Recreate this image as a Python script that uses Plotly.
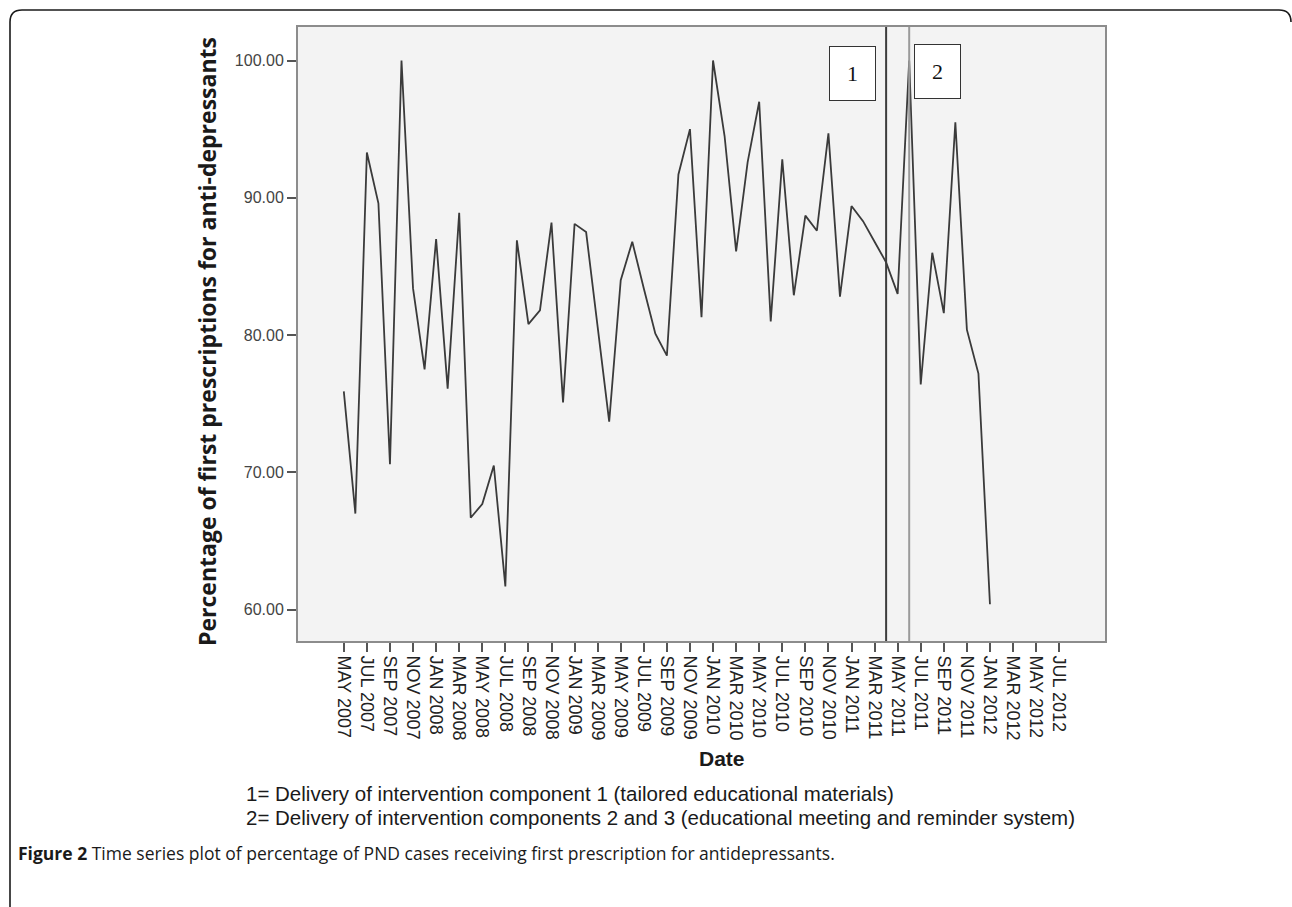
import plotly.graph_objects as go
import pandas as pd

# ---------------- data ----------------
months = [d.strftime("%b %Y").upper()
          for d in pd.date_range("2007-05-01", "2012-07-01", freq="MS")]
pct = [75.9, 67.0, 93.3, 89.6, 70.6, 100.0, 83.4, 77.5, 87.0, 76.1,
       88.9, 66.7, 67.7, 70.5, 61.7, 86.9, 80.8, 81.8, 88.2, 75.1,
       88.1, 87.5, 80.6, 73.7, 84.0, 86.8, 83.4, 80.1, 78.5, 91.7,
       95.0, 81.3, 100.0, 94.5, 86.1, 92.6, 97.0, 81.0, 92.8, 82.9,
       88.7, 87.6, 94.7, 82.8, 89.4, 88.3, 86.8, 85.3, 83.0, 100.0,
       76.4, 86.0, 81.6, 95.5, 80.4, 77.2, 60.4]
tick_labels = months[::2]
y_ticks = [60, 70, 80, 90, 100]
events = ["APR 2011", "JUN 2011"]
event_labels = ["1", "2"]
legend_lines = [
    "1= Delivery of intervention component 1 (tailored educational materials)",
    "2= Delivery of intervention components 2 and 3 (educational meeting and reminder system)",
]
caption_bold = "Figure 2"
caption_text = " Time series plot of percentage of PND cases receiving first prescription for antidepressants."

# ---------------- layout geometry ----------------
W, H = 1292, 907
ML, MR, MT, MB = 298, 187, 27, 266
PW, PH = W - ML - MR, H - MT - MB


def px(x):
    return (x - ML) / PW


def py(y):
    return (H - MB - y) / PH


x_idx = list(range(len(pct)))
fig = go.Figure()
fig.add_trace(go.Scatter(
    x=x_idx, y=pct, mode="lines",
    line=dict(color="#3a3a3a", width=1.8),
    showlegend=False, hoverinfo="skip"))

shapes = []
ev_colors = ["#3c3c3c", "#9a9a9a"]
for ev, c in zip(events, ev_colors):
    xi = months.index(ev)
    shapes.append(dict(type="line", xref="x", yref="paper", x0=xi, x1=xi,
                       y0=0, y1=1, line=dict(color=c, width=2)))

# outer rounded frame (left side + top, with rounded corners)
r = 12
x0, x1, y0, y1 = 10, 1291, 10, 907
path = (f"M {px(x0)},{py(y1)} L {px(x0)},{py(y0 + r)} "
        f"Q {px(x0)},{py(y0)} {px(x0 + r)},{py(y0)} "
        f"L {px(x1 - r)},{py(y0)} Q {px(x1)},{py(y0)} {px(x1)},{py(y0 + r)}")
shapes.append(dict(type="path", xref="paper", yref="paper", path=path,
                   line=dict(color="#1a1a1a", width=1.6)))

annotations = []
box_font = dict(family="Liberation Serif, Times New Roman, serif", size=22, color="#111")
annotations.append(dict(
    x=months.index(events[0]), y=py(73), xref="x", yref="paper",
    xanchor="right", yanchor="middle", xshift=-10,
    text=event_labels[0], showarrow=False, font=box_font,
    bgcolor="white", bordercolor="#333", borderwidth=1, borderpad=0,
    width=45, height=53, align="center", valign="middle"))
annotations.append(dict(
    x=months.index(events[1]), y=py(71), xref="x", yref="paper",
    xanchor="left", yanchor="middle", xshift=5,
    text=event_labels[1], showarrow=False, font=box_font,
    bgcolor="white", bordercolor="#333", borderwidth=1, borderpad=0,
    width=45, height=53, align="center", valign="middle"))

# y title
annotations.append(dict(
    x=px(207), y=py(342), xref="paper", yref="paper",
    xanchor="center", yanchor="middle", textangle=-90,
    text="<b>Percentage of first prescriptions for anti-depressants</b>",
    showarrow=False,
    font=dict(family="Open Sans, sans-serif", size=23, color="#1a1a1a")))
# x title
annotations.append(dict(
    x=px(722), y=py(758), xref="paper", yref="paper",
    xanchor="center", yanchor="middle",
    text="<b>Date</b>", showarrow=False,
    font=dict(family="Liberation Sans Narrow, Arial Narrow, Liberation Sans, sans-serif",
              size=21, color="#1a1a1a")))
# legend lines
for i, t in enumerate(legend_lines):
    annotations.append(dict(
        x=px(244), y=py(793 + 25 * i), xref="paper", yref="paper",
        xanchor="left", yanchor="middle", text=t, showarrow=False,
        font=dict(family="Liberation Sans, Arial, sans-serif", size=20.5, color="#1a1a1a")))
# caption
annotations.append(dict(
    x=px(16), y=py(853), xref="paper", yref="paper",
    xanchor="left", yanchor="middle",
    text=f"<b>{caption_bold}</b>{caption_text}", showarrow=False,
    font=dict(family="Open Sans, sans-serif", size=17.5, color="#1a1a1a")))

fig.update_layout(
    width=W, height=H, autosize=False,
    margin=dict(l=ML, r=MR, t=MT, b=MB, pad=0),
    paper_bgcolor="white", plot_bgcolor="#f3f3f3",
    shapes=shapes, annotations=annotations,
    xaxis=dict(
        range=[-3.97, 65.97], tickmode="array",
        tickvals=[months.index(m) for m in tick_labels], ticktext=tick_labels,
        tickangle=90, ticks="outside", ticklen=9, tickwidth=1.5, tickcolor="#555",
        tickfont=dict(family="Liberation Sans, Arial, sans-serif", size=18, color="#222"),
        showgrid=False, zeroline=False, showline=True, linecolor="#8c8c8c",
        linewidth=2, mirror=True),
    yaxis=dict(
        range=[57.72, 102.44], tickmode="array", tickvals=y_ticks,
        ticktext=[f"{v:.2f}" for v in y_ticks],
        ticks="outside", ticklen=9, tickwidth=1.5, tickcolor="#555",
        tickfont=dict(family="Liberation Sans, Arial, sans-serif", size=16, color="#444"),
        showgrid=False, zeroline=False, showline=True, linecolor="#8c8c8c",
        linewidth=2, mirror=True),
)

fig.write_html("out.html", config={"displayModeBar": False},
               post_script="document.body.style.margin='0';document.body.style.overflow='hidden';")
